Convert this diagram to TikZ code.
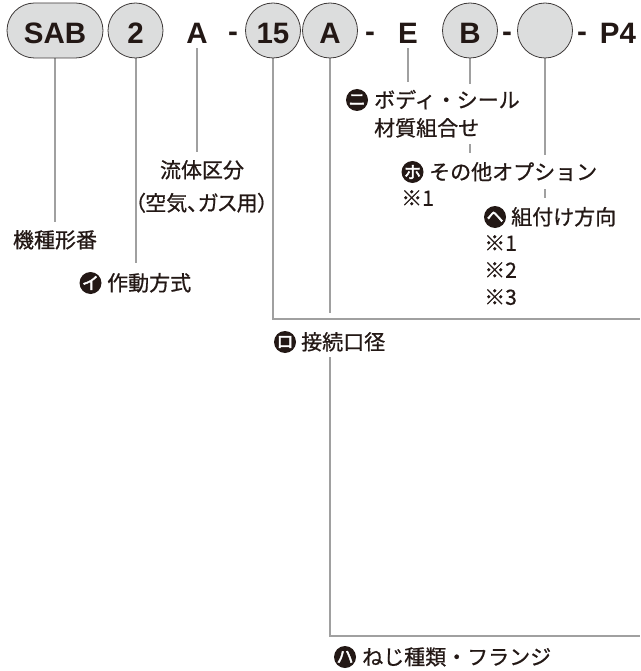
\documentclass[tikz,border=0pt]{standalone}
\usepackage{fontspec}
\newfontfamily\jp{Noto Sans CJK JP}[FakeBold=0.8]
\newfontfamily\jpb{Noto Sans CJK JP}[FakeBold=2.5]
\newfontfamily\codef{Liberation Sans}
\usetikzlibrary{backgrounds}
\definecolor{ink}{HTML}{231815}
\definecolor{lgray}{HTML}{A0A0A0}
\definecolor{cfill}{HTML}{DCDDDD}
\definecolor{cline}{HTML}{3E3A39}
\begin{document}
\begin{tikzpicture}[x=1pt,y=-1pt,
 code/.style={font=\codef\bfseries\fontsize{29.5}{32}\selectfont, text=ink, inner sep=0pt, text height=25.6pt, text depth=0pt},
 codecirc/.style={code, circle, draw=cline, line width=0.8pt, fill=cfill, minimum size=55pt},
 codepill/.style={code, rectangle, rounded corners=27.5pt, draw=cline, line width=0.8pt, fill=cfill, minimum width=96pt, minimum height=55pt},
 lbl/.style={font=\jp\fontsize{21}{28}\selectfont, text=ink, inner sep=0pt, text height=17.5pt, text depth=2pt},
 cover/.style={fill=white, inner ysep=6pt},
 bul/.style={circle, fill=ink, text=white, inner sep=0pt, minimum size=22pt, font=\jpb\fontsize{17}{17}\selectfont},
 conn/.style={draw=lgray, line width=2pt},
]
\useasboundingbox (0,0) rectangle (640,671);

% code row
\node[codepill] (sab) at (55,30.5) {SAB};
\node[codecirc] (n2) at (135.5,30.5) {2};
\node[code] (a1) at (197,30.5) {A};
\node[code] (d1) at (233,30.5) {\raisebox{2pt}{-}};
\node[codecirc] (c15) at (273,30.5) {15};
\node[codecirc] (ca) at (330,30.5) {A};
\node[code] (d2) at (370,30.5) {\raisebox{2pt}{-}};
\node[code] (e) at (408,30.5) {E};
\node[codecirc] (cb) at (470,30.5) {B};
\node[code] (d3) at (507,30.5) {\raisebox{2pt}{-}};
\node[codecirc] (cx) at (545,30.5) {};
\node[code] (d4) at (582,30.5) {\raisebox{2pt}{-}};
\node[code] (p4) at (618,30.5) {P4};

% labels
\node[lbl] (t1) at (55,240) {機種形番};
\node[bul] (b2) at (90.5,283) {イ};
\node[lbl, anchor=west] (t2) at (107,283) {作動方式};
\node[lbl] (t3a) at (202,170) {流体区分};
\node[lbl] (t3b) at (201.5,203) {\addfontfeatures{RawFeature=+palt}（空気、ガス用）};

\node[bul] (b4) at (357,100) {ニ};
\node[lbl, cover, anchor=west] (t4a) at (374,100) {ボディ・シール};
\node[lbl, cover, anchor=west] (t4b) at (374,128) {材質組合せ};

\node[bul] (b5) at (412.5,172) {ホ};
\node[lbl, cover, inner ysep=7pt, anchor=west] (t5) at (429,172) {その他オプション};
\node[lbl, anchor=west] (t5n) at (401,198) {※1};

\node[bul] (b6) at (495,217) {ヘ};
\node[lbl, anchor=west] (t6) at (511,217) {組付け方向};
\node[lbl, anchor=west] (t6a) at (484,243) {※1};
\node[lbl, anchor=west] (t6b) at (484,270) {※2};
\node[lbl, anchor=west] (t6c) at (484,297) {※3};

\node[bul] (b7) at (285,342) {ロ};
\node[lbl, anchor=west] (t7) at (301,342) {接続口径};

\node[bul] (b8) at (345,657) {ハ};
\node[lbl, anchor=west] (t8) at (362,657) {ねじ種類・フランジ};

\coordinate (r1) at (640,319);
\coordinate (r2) at (640,636);

\begin{pgfonlayer}{background}
\draw[conn, shorten >=8.5pt] (sab.south) -- (sab.south |- t1.north);
\draw[conn, shorten >=10pt] (n2.south) -- (n2.south |- t2.north);
\draw[conn, shorten <=4.8pt, shorten >=8.2pt] (a1.south) -- (a1.south |- t3a.north);
\draw[conn] (c15.south) |- (r1);
\draw[conn, shorten >=6pt] (ca.south) -- (ca.south |- r1);
\draw[conn, shorten <=5.5pt] (ca.south |- t7.south) |- (r2);
\draw[conn, shorten <=4.8pt, shorten >=2pt] (e.south) -- (e.south |- t4a.north);
\draw[conn, shorten >=2pt] (cb.south) -- (cb.south |- t5.north);
\draw[conn, shorten >=9.2pt] (cx.south) -- (cx.south |- t6.north);
\end{pgfonlayer}
\end{tikzpicture}
\end{document}
